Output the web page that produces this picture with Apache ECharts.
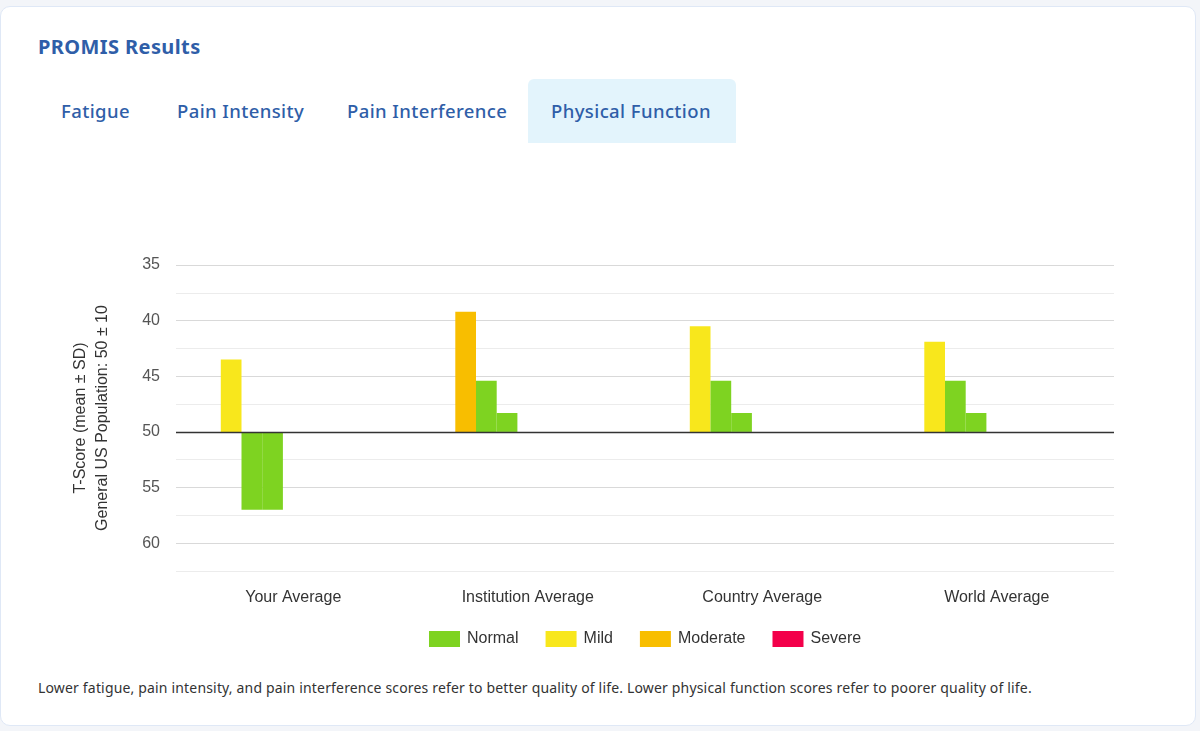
<html>
<head>
    <meta charset="utf-8" />
    <title>PROMIS Results</title>
    <script src="https://cdn.jsdelivr.net/npm/echarts@6/dist/echarts.min.js"></script>
    <style>
        body { margin: 0; background: #f3f5f9; font-family: "Noto Sans", sans-serif; }
        .card { position: absolute; left: 0; top: 6px; width: 1196px; height: 720px; background: #fff;
                border: 1px solid #dfe8f6; border-radius: 10px; box-sizing: border-box; }
        .title { position: absolute; left: 37px; top: 26px; font-size: 20px; font-weight: 700; color: #2f5ea8;
                 letter-spacing: 0.4px; }
        .tab { position: absolute; top: 72px; height: 64px; line-height: 64px; font-size: 18.5px; color: #2f5ea8;
               padding: 0 23px; font-weight: 500; letter-spacing: 0.4px; }
        .tab.active { background: #e3f4fc; border-radius: 6px 6px 0 0; }
        .note { position: absolute; left: 37px; top: 671px; font-size: 14px; color: #333; letter-spacing: 0.17px; }
        #promisChart { position: absolute; left: 37px; top: 197px; width: 1100px; height: 450px; }
    </style>
    <script type="text/javascript">
        var categories = ['Your Average', 'Institution Average', 'Country Average', 'World Average'];
        // three bars per group, T-scores
        var scoreA = [43.5, 39.2, 40.5, 41.9];
        var scoreB = [57.0, 45.4, 45.4, 45.4];
        var scoreC = [57.0, 48.3, 48.3, 48.3];
        var levelA = ['Mild', 'Moderate', 'Mild', 'Mild'];
        var levelB = ['Normal', 'Normal', 'Normal', 'Normal'];
        var levelC = ['Normal', 'Normal', 'Normal', 'Normal'];
        var levels = ['Normal', 'Mild', 'Moderate', 'Severe'];
        var levelColors = { Normal: '#7ed321', Mild: '#f8e71c', Moderate: '#f8be00', Severe: '#f3004a' };
        var baseline = 50;

        function barData(scores, lvls) {
            return scores.map(function (s, i) {
                return { value: s - baseline, itemStyle: { color: levelColors[lvls[i]] } };
            });
        }

        function renderChart() {
            var chart = echarts.init(document.getElementById('promisChart'));
            var series = [
                { name: 'a', type: 'bar', data: barData(scoreA, levelA),
                  markLine: { silent: true, symbol: 'none', label: { show: false },
                              lineStyle: { color: '#333', width: 1.3, type: 'solid' },
                              data: [{ yAxis: 0 }] } },
                { name: 'b', type: 'bar', data: barData(scoreB, levelB) },
                { name: 'c', type: 'bar', data: barData(scoreC, levelC) }
            ];
            // empty series: give the legend its four levels (they also take the last four bar slots)
            levels.forEach(function (l) {
                series.push({ name: l, type: 'bar', data: [], itemStyle: { color: levelColors[l] } });
            });
            series.forEach(function (s) {
                s.barWidth = 20.7;
                s.barGap = '0%';
                s.animation = false;
            });

            var option = {
                textStyle: { fontFamily: 'Liberation Sans, Arial, sans-serif' },
                grid: { left: 138, top: 61, width: 938, height: 306 },
                legend: {
                    data: levels, left: 386, top: 422, icon: 'rect', itemWidth: 31, itemHeight: 16, itemGap: 27,
                    textStyle: { fontSize: 16, color: '#333', padding: [0, 0, 0, 2] }
                },
                xAxis: {
                    type: 'category', data: categories,
                    axisLine: { show: false }, axisTick: { show: false },
                    axisLabel: { margin: 19, fontSize: 16, color: '#333' }
                },
                yAxis: {
                    type: 'value', inverse: true, min: -15, max: 12.5, interval: 2.5,
                    name: 'T-Score (mean ± SD)\nGeneral US Population: 50 ± 10',
                    nameLocation: 'middle', nameGap: 62,
                    nameTextStyle: { fontSize: 16, color: '#333', lineHeight: 22 },
                    axisLine: { show: false }, axisTick: { show: false },
                    axisLabel: {
                        margin: 16, fontSize: 16, color: '#555',
                        formatter: function (v) { return v % 5 === 0 ? String(v + baseline) : ''; }
                    },
                    splitLine: { lineStyle: { color: ['#d9d9d9', '#ececec'], width: 1 } }
                },
                series: series
            };
            chart.setOption(option);
        }
    </script>
</head>
<body>
    <div class="card">
        <div class="title">PROMIS Results</div>
        <div class="tab" style="left: 37px;">Fatigue</div>
        <div class="tab" style="left: 153px;">Pain Intensity</div>
        <div class="tab" style="left: 323px;">Pain Interference</div>
        <div class="tab active" style="left: 527px; width: 208px; box-sizing: border-box;">Physical Function</div>
        <div id="promisChart"></div>
        <div class="note">Lower fatigue, pain intensity, and pain interference scores refer to better quality of life. Lower physical function scores refer to poorer quality of life.</div>
    </div>
    <script type="text/javascript">
        renderChart();
    </script>
</body>
</html>
